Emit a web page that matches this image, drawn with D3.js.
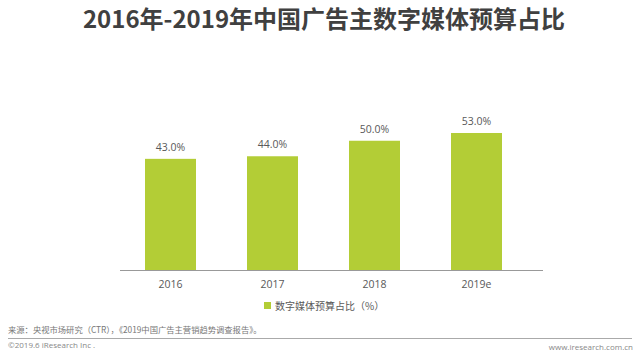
<!DOCTYPE html>
<html><head><meta charset="utf-8">
<script src="https://cdn.jsdelivr.net/npm/d3@7"></script>
<style>
html,body{margin:0;padding:0;background:#fff;}
svg{display:block;font-family:"Open Sans","Noto Sans CJK SC",sans-serif;}
</style></head>
<body>
<script>
const categories = ["2016","2017","2018","2019e"];
const values = [43.0, 44.0, 50.0, 53.0];
const seriesName = "数字媒体预算占比（%）";
const title = "2016年-2019年中国广告主数字媒体预算占比";
const source = "来源：央视市场研究（CTR），《2019中国广告主营销趋势调查报告》。";
const copyright = "©2019.6  iResearch Inc .";
const website = "www.iresearch.com.cn";

const W = 640, H = 355;
const svg = d3.select("body").append("svg").attr("width", W).attr("height", H);
const green = "#b3cd36";

svg.append("text").attr("x", 324).attr("y", 28).attr("text-anchor","middle")
  .attr("font-family","'Noto Sans CJK SC',sans-serif").attr("font-weight","bold")
  .attr("font-size",24).attr("fill","#404040").text(title);

const x = d3.scaleBand().domain(categories).range([119.5, 527.5]).paddingInner(0.5).paddingOuter(0.25);
const y = d3.scaleLinear().domain([0, 60]).range([270, 270 - 2.585*60]);

svg.append("g").selectAll("rect").data(values).join("rect")
  .attr("x",(d,i)=>x(categories[i])).attr("width",x.bandwidth())
  .attr("y",d=>y(d)).attr("height",d=>y(0)-y(d)).attr("fill",green);

svg.append("g").selectAll("text").data(values).join("text")
  .attr("x",(d,i)=>x(categories[i])+x.bandwidth()/2).attr("y",d=>y(d)-8)
  .attr("text-anchor","middle").attr("font-size",10.5).attr("fill","#595959")
  .text(d=>d.toFixed(1)+"%");

const ax = svg.append("g").attr("transform","translate(0,270)")
  .call(d3.axisBottom(x).tickSize(0).tickPadding(11));
ax.select(".domain").attr("d","M120,0.5H543").attr("stroke","#999").attr("stroke-width",1);
ax.selectAll("text").attr("font-size",10.5).attr("fill","#595959")
  .attr("font-family","'Open Sans',sans-serif");

const lg = svg.append("g").attr("transform","translate(264,302)");
lg.append("rect").attr("width",7).attr("height",7).attr("fill",green);
lg.append("text").attr("x",11).attr("y",7.5).attr("font-size",10)
  .attr("font-family","'Noto Sans CJK SC',sans-serif").attr("fill","#595959").text(seriesName);

svg.append("text").attr("x",8).attr("y",333).attr("font-size",8.3)
  .attr("font-family","'Noto Sans CJK SC',sans-serif").attr("fill","#777").text(source);
svg.append("line").attr("x1",8).attr("x2",632).attr("y1",338.5).attr("y2",338.5)
  .attr("stroke","#aaa").attr("stroke-width",1);
svg.append("text").attr("x",8).attr("y",348).attr("font-size",8).attr("fill","#888").text(copyright);
svg.append("text").attr("x",633).attr("y",350).attr("text-anchor","end").attr("font-size",8)
  .attr("fill","#888").text(website);
</script>
</body></html>
